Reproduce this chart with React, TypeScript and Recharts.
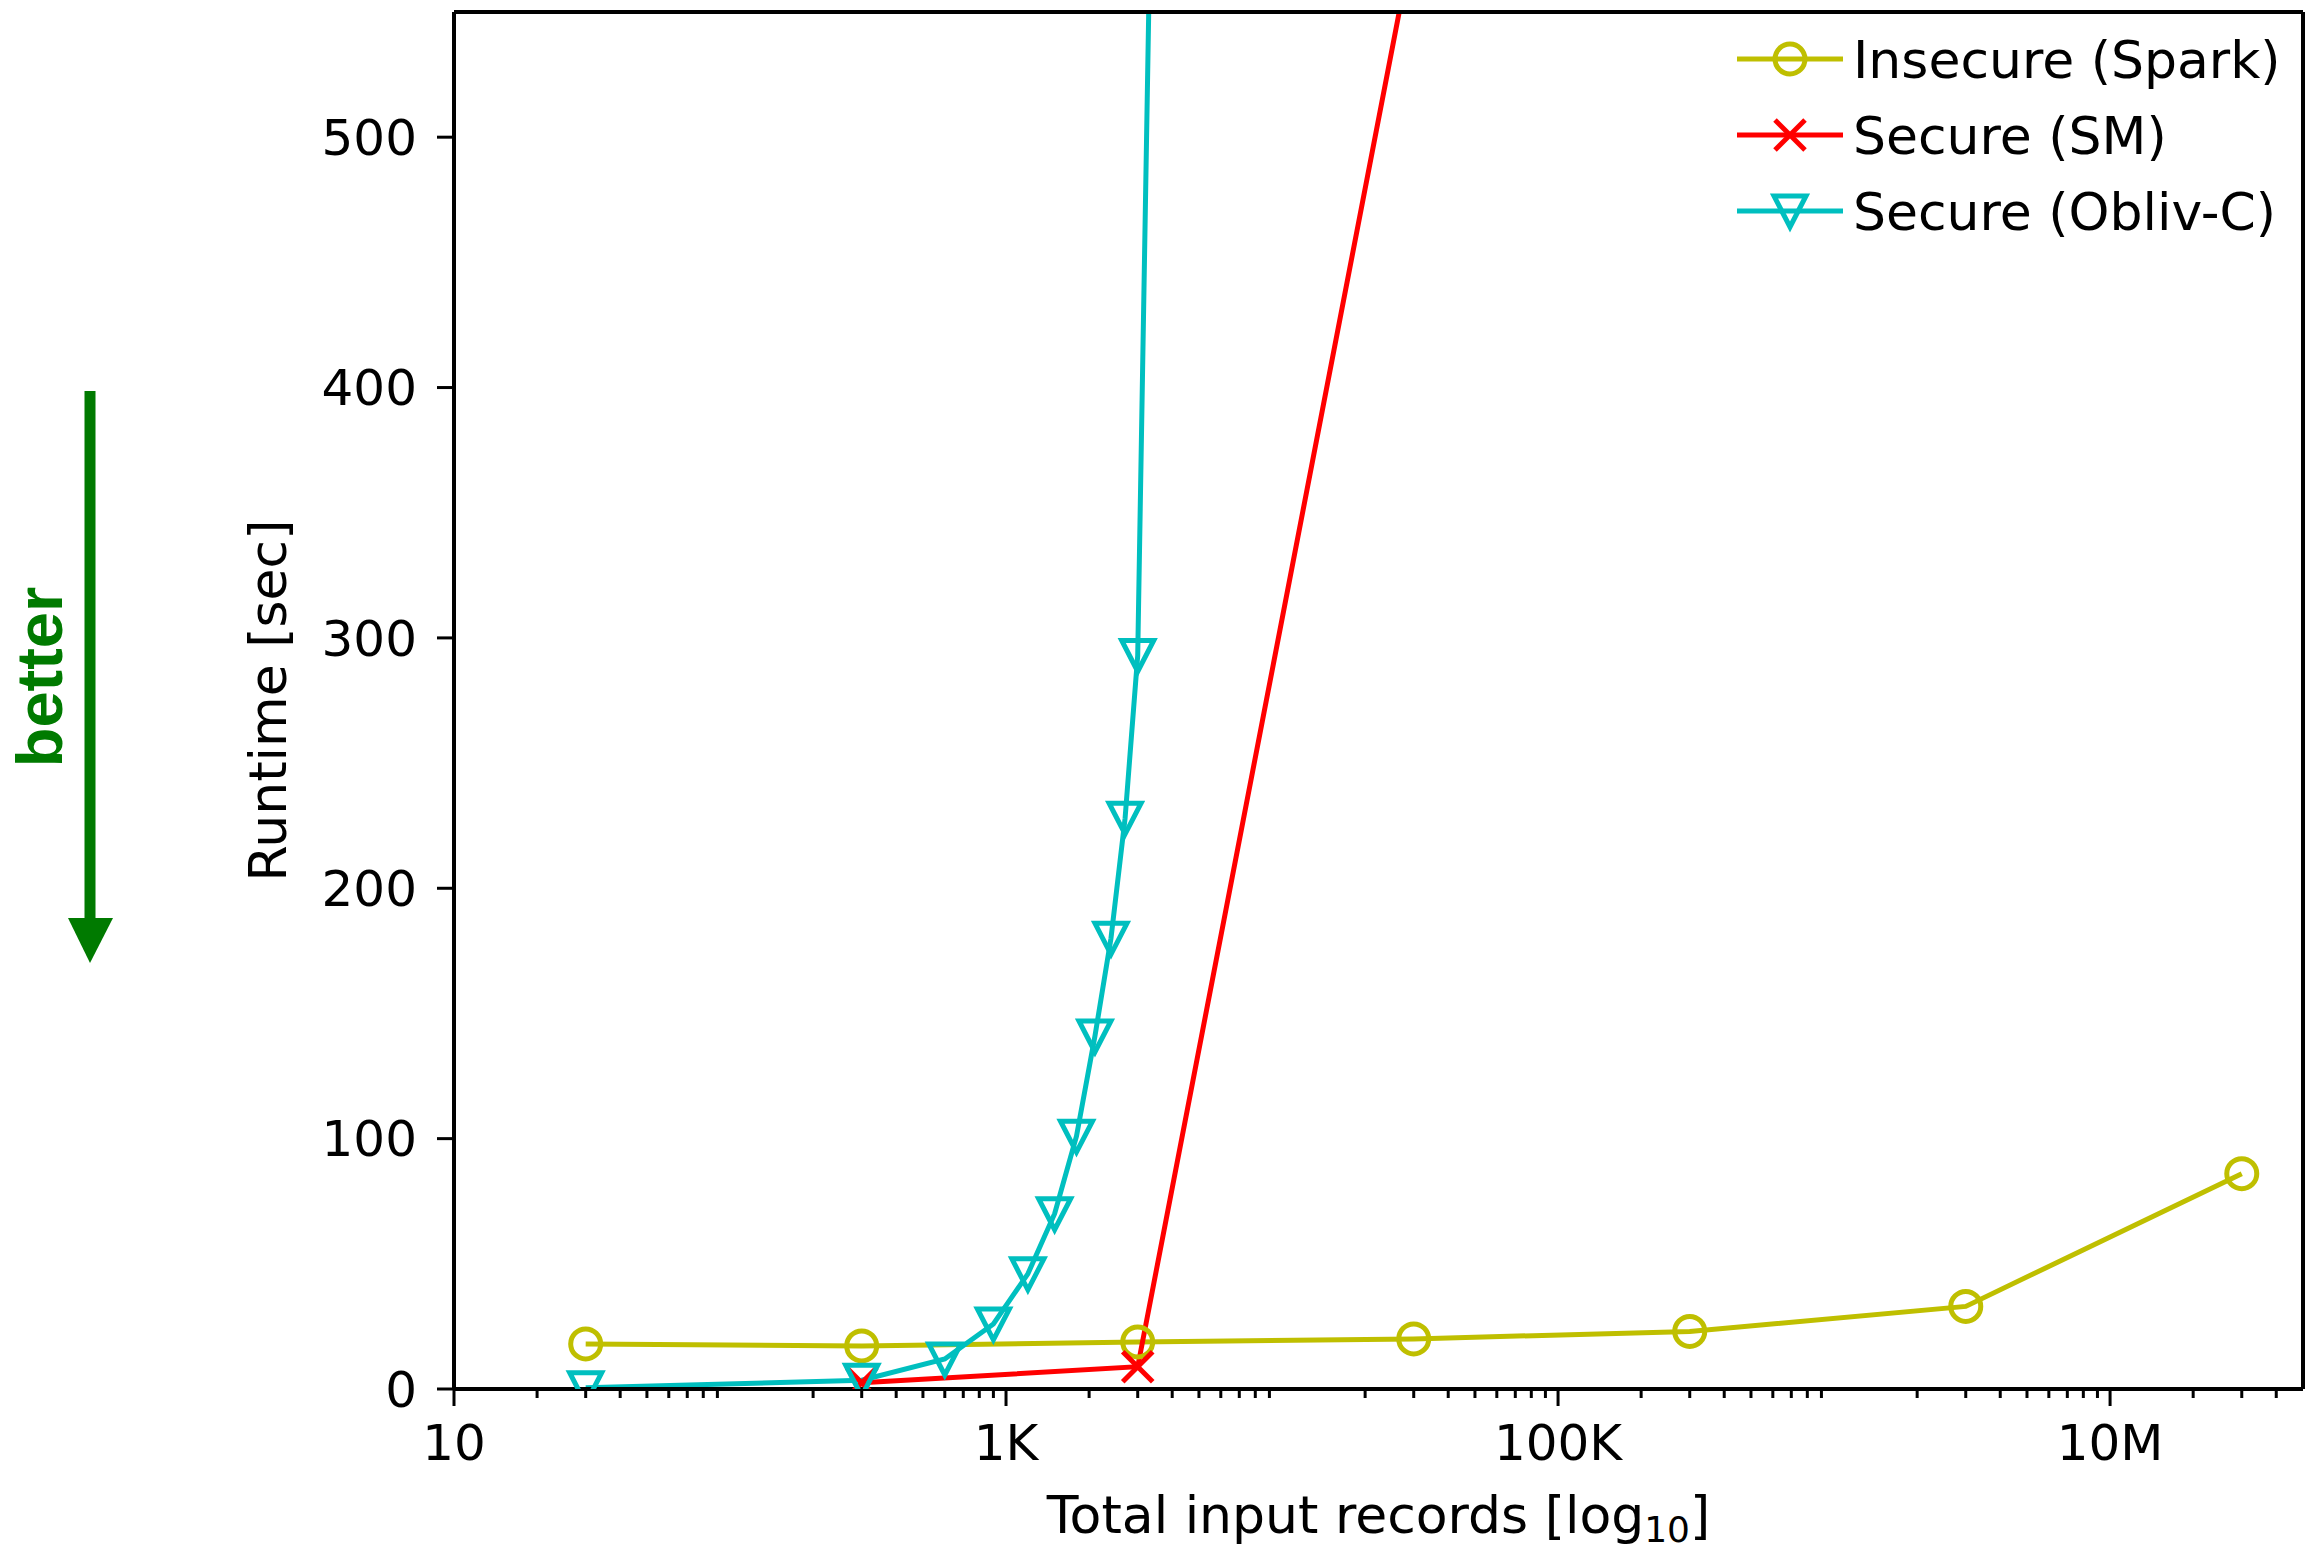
import { LineChart, Line, XAxis, YAxis } from 'recharts';

// input sizes (total records) and runtimes in seconds
const sparkSizes = [30, 300, 3000, 30000, 300000, 3000000, 30000000];
const sparkRuntime = [18, 17.2, 18.8, 20, 23, 33, 86];

const smSizes = [300, 3000, 30000];
const smRuntime = [2.5, 8.9, 580];

const oblivSizes = [30, 300, 600, 900, 1200, 1500, 1800, 2100, 2400, 2700, 3000, 3300];
const oblivRuntime = [0.5, 3.5, 12, 26, 46, 70, 101, 141, 180, 228, 293, 560];

const majorTicks = [10, 1000, 100000, 10000000];
const majorLabels = ['10', '1K', '100K', '10M'];
const minorTicks = [20, 30, 40, 50, 60, 70, 80, 90, 200, 300, 400, 500, 600, 700, 800, 900, 2000, 3000, 4000, 5000, 6000, 7000, 8000, 9000, 20000, 30000, 40000, 50000, 60000, 70000, 80000, 90000, 200000, 300000, 400000, 500000, 600000, 700000, 800000, 900000, 2000000, 3000000, 4000000, 5000000, 6000000, 7000000, 8000000, 9000000, 20000000, 30000000, 40000000];
const yTicks = [0, 100, 200, 300, 400, 500];

const toPoints = (xs: number[], ys: number[]) => xs.map((x, i) => ({ x, y: ys[i] }));

const FONT = 'DejaVu Sans, sans-serif';
const YELLOW = '#bfbf00';
const RED = '#ff0000';
const CYAN = '#00bfbf';
const GREEN = '#007a00';

const series = [
  { name: 'Insecure (Spark)', color: YELLOW, marker: 'circle', data: toPoints(sparkSizes, sparkRuntime) },
  { name: 'Secure (SM)', color: RED, marker: 'x', data: toPoints(smSizes, smRuntime) },
  { name: 'Secure (Obliv-C)', color: CYAN, marker: 'tri', data: toPoints(oblivSizes, oblivRuntime) },
];

function Marker({ cx, cy, kind, color }: { cx: number; cy: number; kind: string; color: string }) {
  if (cx == null || cy == null || isNaN(cx) || isNaN(cy)) return null;
  if (kind === 'circle') {
    return <circle cx={cx} cy={cy} r={15} fill="none" stroke={color} strokeWidth={5} />;
  }
  if (kind === 'x') {
    return (
      <g stroke={color} strokeWidth={5}>
        <line x1={cx - 15} y1={cy - 15} x2={cx + 15} y2={cy + 15} />
        <line x1={cx - 15} y1={cy + 15} x2={cx + 15} y2={cy - 15} />
      </g>
    );
  }
  return (
    <polygon
      points={`${cx - 16},${cy - 15} ${cx + 16},${cy - 15} ${cx},${cy + 16}`}
      fill="none"
      stroke={color}
      strokeWidth={5}
      strokeLinejoin="miter"
    />
  );
}

function XTick(props: any) {
  const { x, y, payload } = props;
  const idx = majorTicks.indexOf(payload.value);
  const major = idx >= 0;
  return (
    <g>
      <line x1={x} x2={x} y1={y} y2={y + (major ? 17 : 9)} stroke="#000" strokeWidth={3} />
      {major && (
        <text x={x} y={y + 71} textAnchor="middle" fontSize={50} fontFamily={FONT} fill="#000">
          {majorLabels[idx]}
        </text>
      )}
    </g>
  );
}

function YLabel(props: any) {
  const vb = props.viewBox;
  const cx = vb.x + 286;
  const cy = vb.y + vb.height / 2;
  return (
    <text transform={`translate(${cx}, ${cy}) rotate(-90)`} textAnchor="middle" fontSize={52} fontFamily={FONT} fill="#000">
      Runtime [sec]
    </text>
  );
}

function XLabel(props: any) {
  const vb = props.viewBox;
  const cx = vb.x + vb.width / 2;
  return (
    <text x={cx} y={vb.y + 144} textAnchor="middle" fontSize={52} fontFamily={FONT} fill="#000">
      Total input records [log
      <tspan fontSize={36} dy={9}>10</tspan>
      <tspan dy={-9}>]</tspan>
    </text>
  );
}

export default function App() {
  return (
    <div style={{ position: 'absolute', left: 0, top: 0, width: 2312, height: 1549, background: '#fff' }}>
      <LineChart width={2312} height={1549} margin={{ top: 11, right: 8, left: 0, bottom: 0 }}>
        <XAxis
          xAxisId="main"
          dataKey="x"
          type="number"
          scale="log"
          domain={[10, 50000000]}
          allowDataOverflow
          ticks={[...majorTicks, ...minorTicks].sort((a, b) => a - b)}
          interval={0}
          tick={<XTick />}
          tickLine={false}
          tickSize={0}
          tickMargin={0}
          height={160}
          axisLine={{ stroke: '#000', strokeWidth: 4 }}
          label={<XLabel />}
        />
        <XAxis
          xAxisId="top"
          orientation="top"
          dataKey="x"
          type="number"
          scale="log"
          domain={[10, 50000000]}
          allowDataOverflow
          tick={false}
          tickLine={false}
          height={1}
          axisLine={{ stroke: '#000', strokeWidth: 4 }}
        />
        <YAxis
          yAxisId="main"
          type="number"
          domain={[0, 550]}
          allowDataOverflow
          ticks={yTicks}
          interval={0}
          width={454}
          tickSize={17}
          tickMargin={20}
          tickLine={{ stroke: '#000', strokeWidth: 3 }}
          axisLine={{ stroke: '#000', strokeWidth: 4 }}
          tick={{ fontSize: 50, fontFamily: FONT, fill: '#000' }}
          label={<YLabel />}
        />
        <YAxis
          yAxisId="right"
          orientation="right"
          type="number"
          domain={[0, 550]}
          allowDataOverflow
          tick={false}
          tickLine={false}
          width={1}
          axisLine={{ stroke: '#000', strokeWidth: 4 }}
        />
        {series.map((s) => (
          <Line
            key={s.name}
            xAxisId="main"
            yAxisId="main"
            data={s.data}
            dataKey="y"
            name={s.name}
            stroke={s.color}
            strokeWidth={5}
            isAnimationActive={false}
            activeDot={false}
            dot={(p: any) => <Marker key={`${s.name}-${p.index}`} cx={p.cx} cy={p.cy} kind={s.marker} color={s.color} />}
          />
        ))}
      </LineChart>
      <svg style={{ position: 'absolute', left: 1730, top: 12 }} width={580} height={250}>
        {series.map((s, i) => {
          const cy = 47 + i * 76;
          return (
            <g key={s.name}>
              <line x1={7} x2={113} y1={cy} y2={cy} stroke={s.color} strokeWidth={5} />
              <Marker cx={60} cy={cy} kind={s.marker} color={s.color} />
              <text x={123} y={cy + 19} fontSize={52} fontFamily={FONT} fill="#000">
                {s.name}
              </text>
            </g>
          );
        })}
      </svg>
      <svg style={{ position: 'absolute', left: 0, top: 0 }} width={200} height={1100}>
        <line x1={90} x2={90} y1={391} y2={920} stroke={GREEN} strokeWidth={11} />
        <polygon points="68,918 113,918 90,963" fill={GREEN} />
        <text
          transform="translate(62, 677) rotate(-90)"
          textAnchor="middle"
          fontSize={65}
          fontWeight="bold"
          fontFamily="Liberation Sans, Arial, sans-serif"
          fill={GREEN}
        >
          better
        </text>
      </svg>
    </div>
  );
}
